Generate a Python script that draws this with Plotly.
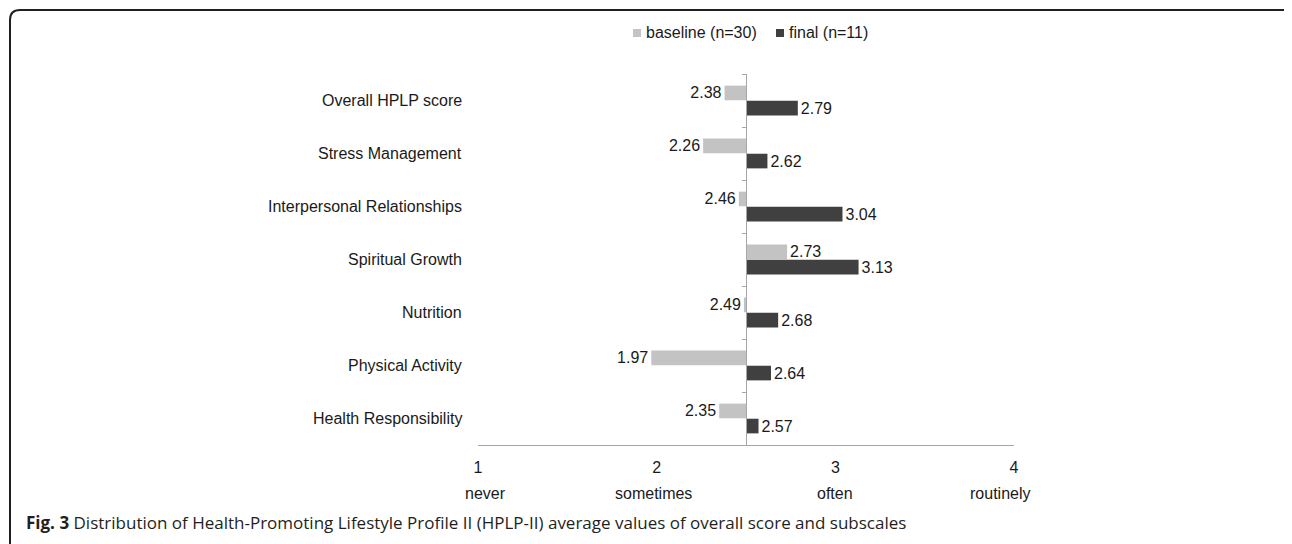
import plotly.graph_objects as go

categories = ["Overall HPLP score", "Stress Management", "Interpersonal Relationships",
              "Spiritual Growth", "Nutrition", "Physical Activity", "Health Responsibility"]
baseline = [2.38, 2.26, 2.46, 2.73, 2.49, 1.97, 2.35]
final = [2.79, 2.62, 3.04, 3.13, 2.68, 2.64, 2.57]
series_names = ["baseline (n=30)", "final (n=11)"]
tick_vals = [1, 2, 3, 4]
tick_labels = ["1", "2", "3", "4"]
scale_words = ["never", "sometimes", "often", "routinely"]
scale_word_pos = [1.04, 1.98, 3.0, 3.92]
midpoint = 2.5
caption_bold = "Fig. 3"
caption_rest = " Distribution of Health-Promoting Lifestyle Profile II (HPLP-II) average values of overall score and subscales"

OFF = 8  # page body margin
W, H = 1292 - OFF, 544 - OFF
L = 478 - OFF
T = 74 - OFF
R = W - (1014 - OFF)
B = H - (445 - OFF)
PW, PH = W - L - R, H - T - B

def px(xpage):
    return (xpage - OFF - L) / PW

def py(ypage):
    return (H - B - (ypage - OFF)) / PH

C_BASE = "#c3c3c3"
C_FIN = "#404040"
AX = "#a6a6a6"
FONT = "Liberation Sans, Arial, sans-serif"
TXT = "#1a1a1a"
FS = 16

fig = go.Figure()
for name, vals, col in [(series_names[0], baseline, C_BASE), (series_names[1], final, C_FIN)]:
    fig.add_trace(go.Bar(
        y=categories, x=[v - midpoint for v in vals], base=midpoint, orientation="h",
        name=name, marker=dict(color=col, line=dict(width=0)),
        text=[f"{v:.2f}" for v in vals], textposition="outside",
        textfont=dict(size=FS, color=TXT, family=FONT), constraintext="none",
        cliponaxis=False, showlegend=False,
    ))

annotations = []
for c in categories:
    annotations.append(dict(x=0, y=c, xref="paper", yref="y", text=c, showarrow=False,
                            xanchor="right", xshift=-14, font=dict(size=FS, color=TXT, family=FONT)))
for w, xv in zip(scale_words, scale_word_pos):
    annotations.append(dict(x=xv, y=py(493), xref="x", yref="paper", text=w, showarrow=False,
                            xanchor="center", yanchor="middle", font=dict(size=FS, color=TXT, family=FONT)))
# legend
leg = [(633, C_BASE, series_names[0]), (776, C_FIN, series_names[1])]
shapes = []
for x0, col, name in leg:
    shapes.append(dict(type="rect", xref="paper", yref="paper", x0=px(x0), x1=px(x0 + 8),
                       y0=py(37), y1=py(29), fillcolor=col, line=dict(width=0)))
    annotations.append(dict(x=px(x0 + 11), y=py(33), xref="paper", yref="paper", text=name,
                            showarrow=False, xanchor="left", yanchor="middle",
                            font=dict(size=FS, color=TXT, family=FONT)))
# caption
annotations.append(dict(x=px(24), y=py(522), xref="paper", yref="paper",
                        text=f"<b>{caption_bold}</b>{caption_rest}", showarrow=False,
                        xanchor="left", yanchor="middle",
                        font=dict(size=17, color="#231f20", family="Open Sans, sans-serif")))
# frame
path = (f"M {px(10)},{py(560)} L {px(10)},{py(20)} Q {px(10)},{py(10)} {px(20)},{py(10)} "
        f"L {px(1285)},{py(10)} L {px(1291)},{py(16)} L {px(1291)},{py(560)}")
shapes.append(dict(type="path", xref="paper", yref="paper", path=path,
                   line=dict(color="#231f20", width=2)))

fig.update_layout(
    width=W, height=H, margin=dict(l=L, r=R, t=T, b=B),
    paper_bgcolor="white", plot_bgcolor="white",
    barmode="group", bargap=0.43, bargroupgap=0.03,
    font=dict(family=FONT, size=FS, color=TXT),
    annotations=annotations, shapes=shapes,
    xaxis=dict(range=[1, 4], tickvals=tick_vals, ticktext=tick_labels, showgrid=False,
               zeroline=False, showline=True, linecolor=AX, linewidth=1,
               ticks="outside", ticklen=8, tickcolor="rgba(0,0,0,0)",
               tickfont=dict(size=FS, color=TXT, family=FONT)),
    yaxis=dict(type="category", autorange="reversed", showgrid=False, zeroline=False,
               showline=True, linecolor=AX, linewidth=1, anchor="free", position=0.5,
               ticks="outside", ticklen=4, tickcolor=AX, tickson="boundaries",
               showticklabels=False),
)

fig.write_html("out.html")
